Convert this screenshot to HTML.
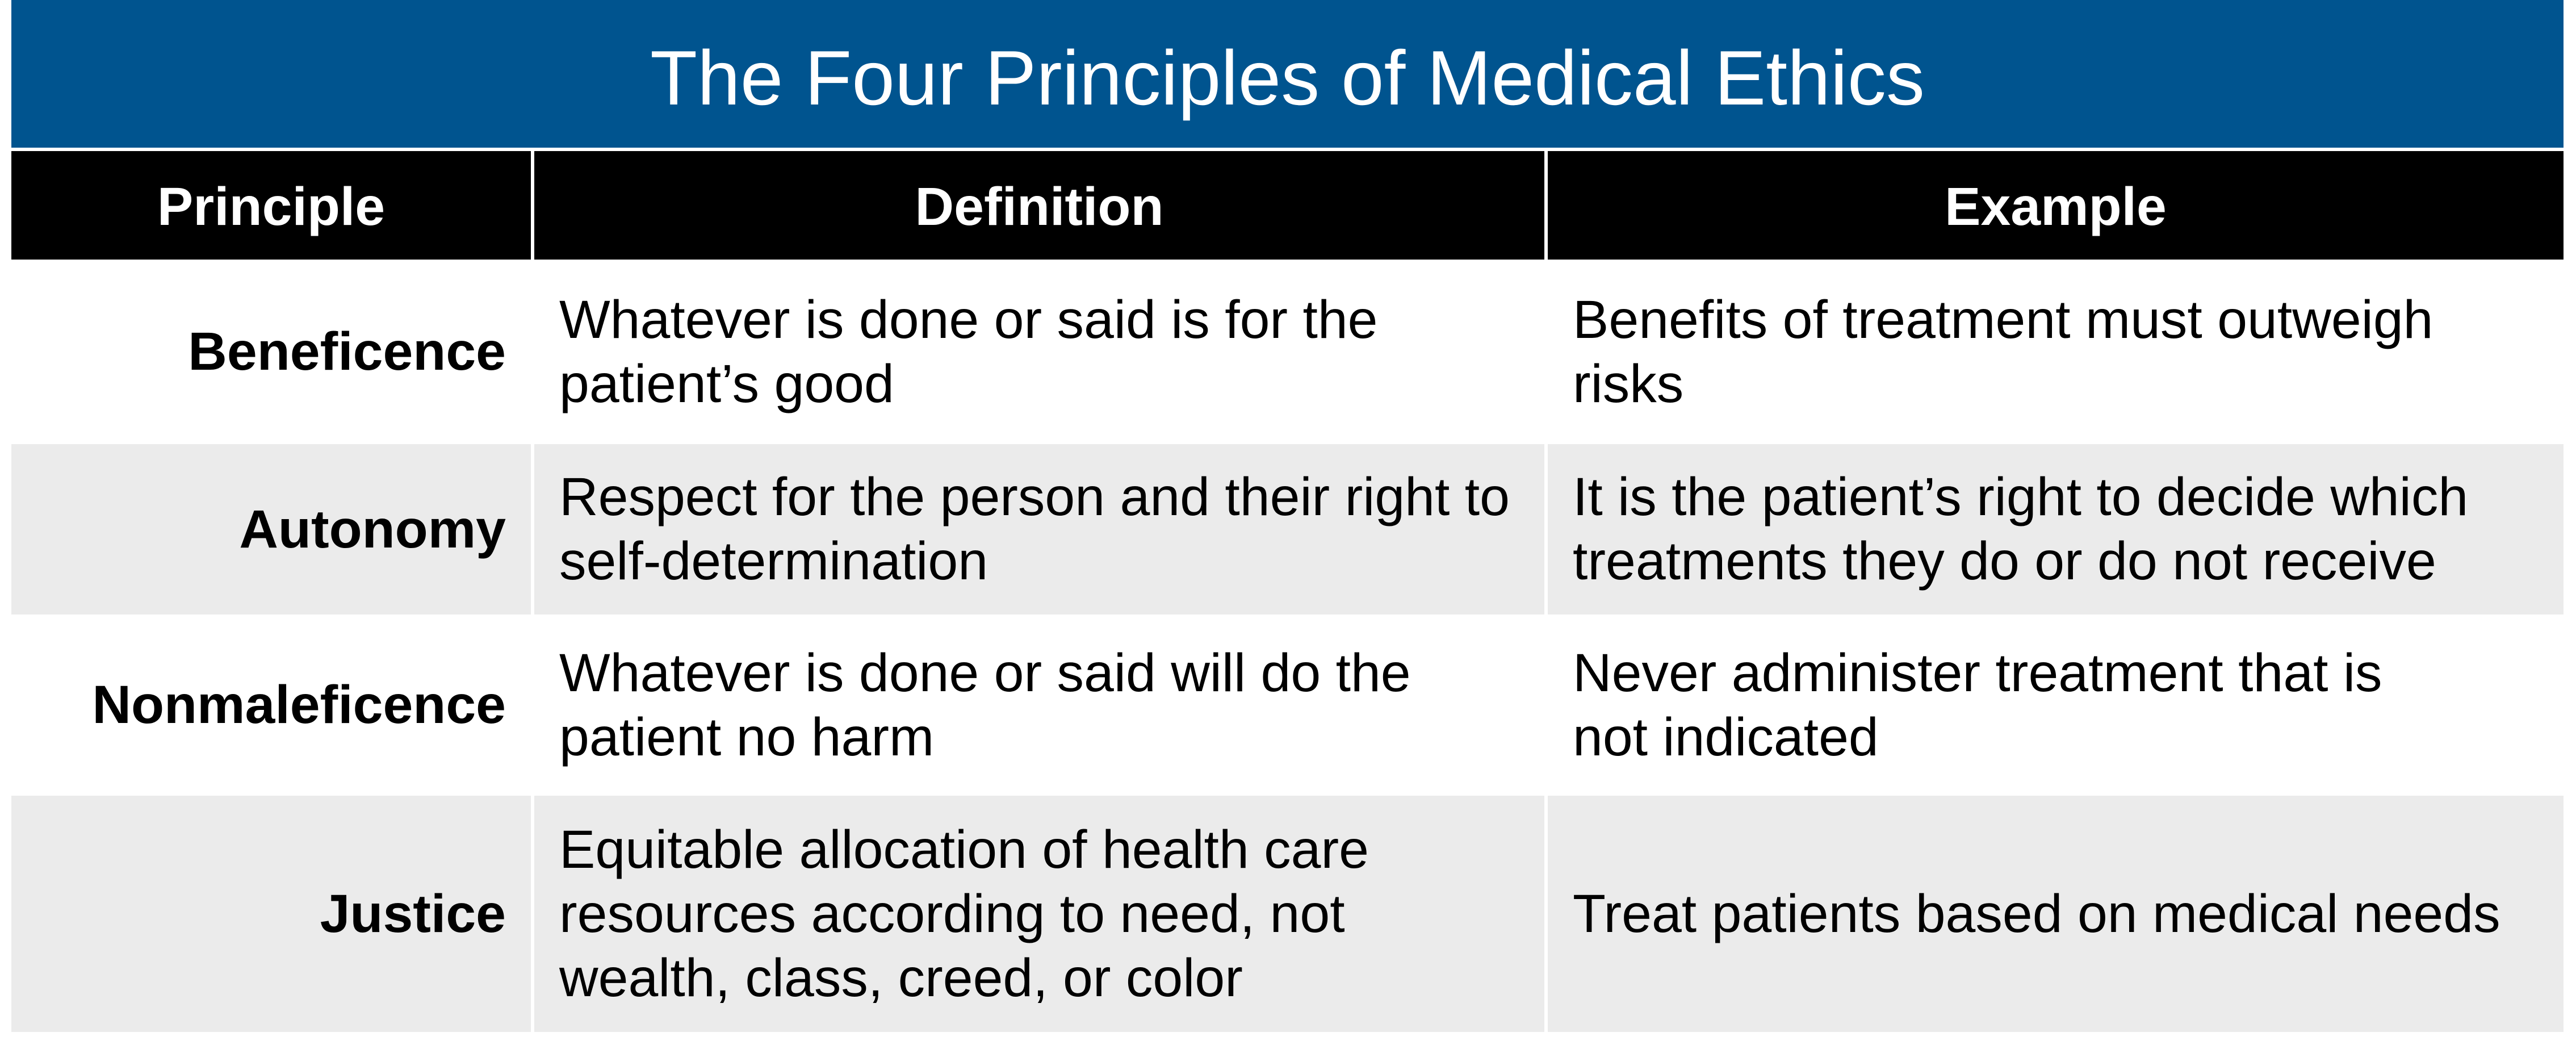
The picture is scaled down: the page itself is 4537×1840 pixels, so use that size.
<!DOCTYPE html>
<html><head><meta charset="utf-8"><style>
html,body{margin:0;padding:0;background:#fff;}
body{width:4537px;height:1840px;position:relative;overflow:hidden;font-family:"Liberation Sans",Arial,sans-serif;}
.c{position:absolute;display:flex;align-items:center;box-sizing:border-box;}
.t{background:#00548f;color:#fff;justify-content:center;font-size:136px;padding-top:14px;}
.h{background:#000;color:#fff;justify-content:center;font-weight:bold;font-size:95px;padding-top:6px;}
.p{justify-content:flex-end;padding-right:44px;font-weight:bold;font-size:95px;color:#000;}
.d{padding-left:44px;font-size:95px;line-height:113px;color:#000;}
.g{background:#ebebeb;}
</style></head><body>
<div class="c t" style="left:20px;top:0;width:4495px;height:260px;">The Four Principles of Medical Ethics</div>
<div class="c h" style="left:20px;top:266px;width:915px;height:191px;">Principle</div>
<div class="c h" style="left:941px;top:266px;width:1779px;height:191px;">Definition</div>
<div class="c h" style="left:2726px;top:266px;width:1789px;height:191px;">Example</div>

<div class="c p" style="left:20px;top:463px;width:915px;height:313px;">Beneficence</div>
<div class="c d" style="left:941px;top:463px;width:1779px;height:313px;">Whatever is done or said is for the<br>patient’s good</div>
<div class="c d" style="left:2726px;top:463px;width:1789px;height:313px;">Benefits of treatment must outweigh<br>risks</div>

<div class="c p g" style="left:20px;top:782px;width:915px;height:300px;">Autonomy</div>
<div class="c d g" style="left:941px;top:782px;width:1779px;height:300px;">Respect for the person and their right to<br>self-determination</div>
<div class="c d g" style="left:2726px;top:782px;width:1789px;height:300px;">It is the patient’s right to decide which<br>treatments they do or do not receive</div>

<div class="c p" style="left:20px;top:1088px;width:915px;height:307px;">Nonmaleficence</div>
<div class="c d" style="left:941px;top:1088px;width:1779px;height:307px;">Whatever is done or said will do the<br>patient no harm</div>
<div class="c d" style="left:2726px;top:1088px;width:1789px;height:307px;">Never administer treatment that is<br>not indicated</div>

<div class="c p g" style="left:20px;top:1401px;width:915px;height:416px;">Justice</div>
<div class="c d g" style="left:941px;top:1401px;width:1779px;height:416px;">Equitable allocation of health care<br>resources according to need, not<br>wealth, class, creed, or color</div>
<div class="c d g" style="left:2726px;top:1401px;width:1789px;height:416px;">Treat patients based on medical needs</div>
</body></html>
